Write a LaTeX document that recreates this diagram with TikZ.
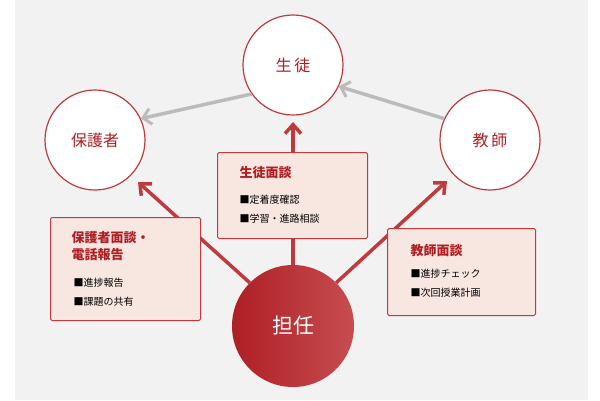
\documentclass[tikz,border=0pt]{standalone}
\usepackage{fontspec}
\setmainfont{Noto Sans CJK JP}
\usetikzlibrary{arrows.meta}
\definecolor{bg}{HTML}{F2F2F2}
\definecolor{rd}{HTML}{C0393D}
\definecolor{dr}{HTML}{AE1F24}
\definecolor{bx}{HTML}{F8E6E1}
\definecolor{gr}{HTML}{BBBBBB}
\tikzset{
 x=1pt,y=-1pt,
 person/.style={circle,draw=rd,line width=1.2pt,fill=white,minimum size=100pt,font=\fontsize{16}{16}\selectfont,text=dr},
 infobox/.style={draw=rd,line width=1pt,fill=bx,rounded corners=1.5pt,anchor=north west,align=left,inner sep=0pt},
 garrow/.style={gr,line width=3.5pt,-{Straight Barb[length=8pt,width=16pt,line width=3pt]}},
 rarrow/.style={rd,line width=3.5pt,-{Straight Barb[length=9pt,width=16pt,line width=3.5pt]}},
 ttl/.style={font=\bfseries\fontsize{13}{17}\selectfont,text=dr,anchor=north west,align=left},
 itm/.style={font=\fontsize{10}{12}\selectfont,anchor=north west},
}
\begin{document}
\begin{tikzpicture}
\useasboundingbox (0,0) rectangle (600,400);
\fill[white] (0,0) rectangle (600,400);
\fill[bg] (15,0) rectangle (588,400);
\node[person] (s) at (293,65) {生\,徒};
\node[person] (h) at (95,140) {保護者};
\node[person] (k) at (490,140) {教\,師};
\node[circle,minimum size=122pt,left color=dr,right color=rd!90,text=white,font=\fontsize{21}{21}\selectfont] (t) at (293,326) {担任};
\draw[garrow] (s.-145) -- (h.25);
\draw[garrow] (k.155) -- (s.-25);
\coordinate (as) at (293,122);
\coordinate (ah) at (138,182);
\coordinate (ak) at (447,181);
\draw[rarrow] (t.north) -- (as);
\draw[rarrow] (t.135) -- (ah);
\draw[rarrow] (t.45) -- (ak);
\node[infobox,minimum width=150pt,minimum height=86pt] (b1) at (217,152) {};
\node[ttl] (b1t) at (236,163) {生徒面談};
\node[itm] (b1a) at (236,192) {■定着度確認};
\node[itm] (b1b) at (236,211) {■学習・進路相談};
\node[infobox,minimum width=150pt,minimum height=103pt] (b2) at (50,217) {};
\node[ttl] (b2t) at (68,228) {保護者面談・\\電話報告};
\node[itm] (b2a) at (70,275) {■進捗報告};
\node[itm] (b2b) at (70,294) {■課題の共有};
\node[infobox,minimum width=148pt,minimum height=87pt] (b3) at (387,228) {};
\node[ttl] (b3t) at (407,241) {教師面談};
\node[itm] (b3a) at (407,266) {■進捗チェック};
\node[itm] (b3b) at (407,285) {■次回授業計画};
\end{tikzpicture}
\end{document}
